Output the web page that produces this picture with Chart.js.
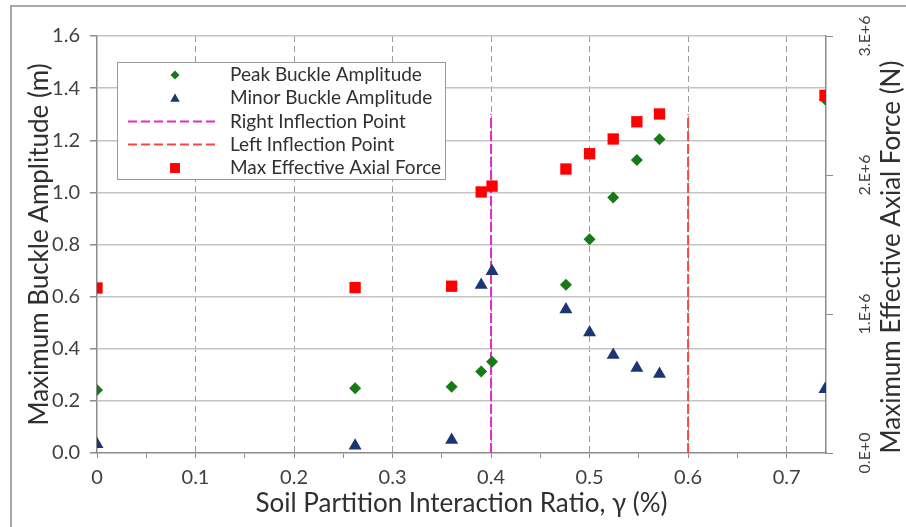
<!DOCTYPE html>
<html>
<head>
<meta charset="utf-8">
<script src="https://cdn.jsdelivr.net/npm/chart.js@4/dist/chart.umd.min.js"></script>
<style>
  body { margin: 0; background: #fff; overflow: hidden; }
  #wrap { position: relative; width: 906px; height: 527px; overflow: hidden; }
  #frame { position: absolute; left: 10px; top: 5px; width: 1000px; height: 700px;
           border-left: 2px solid #a8a8a8; border-top: 2px solid #a8a8a8; }
  canvas { position: absolute; left: 0; top: 0; }
</style>
</head>
<body>
<div id="wrap">
  <div id="frame"></div>
  <canvas id="chart" width="906" height="527"></canvas>
</div>
<script>
// soil partition interaction ratio (x) for every run
const ratio = [0, 0.262, 0.36, 0.39, 0.401, 0.476, 0.5, 0.524, 0.548, 0.571, 0.739];
const peakAmplitude = [0.242, 0.248, 0.254, 0.313, 0.35, 0.646, 0.82, 0.98, 1.124, 1.204, 1.357];
const minorAmplitude = [0.034, 0.028, 0.05, 0.645, 0.697, 0.551, 0.462, 0.376, 0.326, 0.303, 0.245];
const maxAxialForce = [1.187e6, 1.19e6, 1.2e6, 1.878e6, 1.92e6, 2.043e6, 2.153e6, 2.259e6, 2.383e6, 2.439e6, 2.573e6];

const rightInflectionX = [0.4, 0.4];
const leftInflectionX = [0.6, 0.6];
const inflectionY = [0, 1.3];

const SERIES_LABELS = ["Peak Buckle Amplitude", "Minor Buckle Amplitude", "Right Inflection Point",
  "Left Inflection Point", "Max Effective Axial Force"];
const RATIO_TICKS = [0, 0.05, 0.1, 0.15, 0.2, 0.25, 0.3, 0.35, 0.4, 0.45, 0.5, 0.55, 0.6, 0.65, 0.7];
const RATIO_MAX = 0.74;
const AMPLITUDE_TICKS = { min: 0, max: 1.6, step: 0.2 };
const FORCE_TICKS = { min: 0, max: 3e6, step: 1e6 };

const GREEN = "#157a17";
const NAVY = "#1c3573";
const RED = "#ff0000";
const MAGENTA = "#e32bc6";
const RED_LINE = "#ff4444";
const FONT = "Lato";
const TITLE_SIZE = 26;

function toPoints(xs, ys) {
  return xs.map((x, i) => ({ x, y: ys[i] }));
}

function isTenth(v) {
  return Math.abs(v * 10 - Math.round(v * 10)) < 1e-6;
}

function fixWidth(w) {
  return (scale) => { scale.width = w; };
}

const legendPlugin = {
  id: "boxLegend",
  afterDraw(chart) {
    const ctx = chart.ctx;
    const x0 = 117, y0 = 62, w = 328, h = 117;
    ctx.save();
    ctx.fillStyle = "#fff";
    ctx.fillRect(x0, y0, w, h);
    ctx.strokeStyle = "#9a9a9a";
    ctx.lineWidth = 1;
    ctx.strokeRect(x0 + 0.5, y0 + 0.5, w, h);

    const rows = [75, 98, 121.5, 144.5, 168];
    const mx = 175;
    ctx.font = `19px ${FONT}`;
    ctx.textBaseline = "middle";
    SERIES_LABELS.forEach((label, i) => {
      const y = rows[i];
      ctx.save();
      if (i === 0) {
        ctx.fillStyle = GREEN; ctx.strokeStyle = GREEN;
        Chart.helpers.drawPoint(ctx, { pointStyle: "rectRot", radius: 4.5, borderWidth: 0 }, mx, y);
      } else if (i === 1) {
        ctx.fillStyle = NAVY; ctx.strokeStyle = NAVY;
        Chart.helpers.drawPoint(ctx, { pointStyle: "triangle", radius: 5.5, borderWidth: 0 }, mx, y + 1);
      } else if (i === 4) {
        ctx.fillStyle = RED; ctx.strokeStyle = RED;
        Chart.helpers.drawPoint(ctx, { pointStyle: "rect", radius: 7, borderWidth: 0 }, mx, y);
      } else {
        ctx.strokeStyle = i === 2 ? MAGENTA : RED_LINE;
        ctx.lineWidth = 2;
        ctx.setLineDash([9, 4]);
        ctx.beginPath();
        ctx.moveTo(128, y);
        ctx.lineTo(218, y);
        ctx.stroke();
      }
      ctx.restore();
      ctx.fillStyle = "#303030";
      ctx.fillText(label, 230, y);
    });

    // right axis title reads bottom to top
    ctx.font = `${TITLE_SIZE}px ${FONT}`;
    ctx.fillStyle = "#303030";
    ctx.textAlign = "center";
    ctx.translate(892, 257);
    ctx.rotate(-Math.PI / 2);
    ctx.fillText("Maximum Effective Axial Force (N)", 0, 0);
    ctx.restore();
  },
};

Chart.defaults.font.family = FONT;
Chart.defaults.color = "#404040";

new Chart(document.getElementById("chart"), {
  type: "scatter",
  data: {
    datasets: [
      {
        label: SERIES_LABELS[4],
        data: toPoints(ratio, maxAxialForce),
        yAxisID: "y2",
        pointStyle: "rect",
        pointRadius: 8,
        backgroundColor: RED,
        borderWidth: 0,
        order: 0,
      },
      {
        label: SERIES_LABELS[0],
        data: toPoints(ratio, peakAmplitude),
        yAxisID: "y",
        pointStyle: "rectRot",
        pointRadius: 6,
        backgroundColor: GREEN,
        borderWidth: 0,
        order: 1,
      },
      {
        label: SERIES_LABELS[1],
        data: toPoints(ratio, minorAmplitude),
        yAxisID: "y",
        pointStyle: "triangle",
        pointRadius: 7.5,
        backgroundColor: NAVY,
        borderWidth: 0,
        order: 2,
      },
      {
        label: SERIES_LABELS[2],
        data: toPoints(rightInflectionX, inflectionY),
        yAxisID: "y",
        showLine: true,
        pointRadius: 0,
        borderColor: MAGENTA,
        borderWidth: 2,
        borderDash: [10, 3],
        order: 3,
      },
      {
        label: SERIES_LABELS[3],
        data: toPoints(leftInflectionX, inflectionY),
        yAxisID: "y",
        showLine: true,
        pointRadius: 0,
        borderColor: RED_LINE,
        borderWidth: 2,
        borderDash: [10, 3],
        order: 3,
      },
    ],
  },
  options: {
    responsive: false,
    animation: false,
    devicePixelRatio: 1,
    layout: { padding: { top: 36, left: 0, right: 0, bottom: 0 } },
    plugins: { legend: { display: false }, tooltip: { enabled: false } },
    scales: {
      x: {
        type: "linear",
        min: 0,
        max: RATIO_MAX,
        afterBuildTicks: (scale) => { scale.ticks = RATIO_TICKS.map((value) => ({ value })); },
        afterFit: (scale) => { scale.height = 74; },
        ticks: {
          autoSkip: false,
          maxRotation: 0,
          padding: 8,
          font: { size: 20 },
          callback: (v) => (isTenth(v) ? String(Math.round(v * 10) / 10) : ""),
        },
        grid: {
          color: (c) => (c.tick && isTenth(c.tick.value) && c.tick.value > 0 ? "#9c9c9c" : "transparent"),
          tickColor: "#8c8c8c",
          tickLength: 5,
          lineWidth: 1,
        },
        border: { color: "#8c8c8c", width: 1.5, dash: [6, 4] },
        title: {
          display: true,
          text: "Soil Partition Interaction Ratio, γ (%)",
          font: { size: TITLE_SIZE },
          color: "#303030",
          padding: { top: 0, bottom: 8 },
        },
      },
      y: {
        position: "left",
        min: AMPLITUDE_TICKS.min,
        max: AMPLITUDE_TICKS.max,
        afterFit: fixWidth(97),
        ticks: {
          stepSize: AMPLITUDE_TICKS.step,
          padding: 10,
          font: { size: 20 },
          callback: (v) => v.toFixed(1),
        },
        grid: { color: (c) => (c.tick && c.tick.value > 0 ? "#c4c4c4" : "transparent"), tickColor: "#8c8c8c", tickLength: 7, lineWidth: 1.5 },
        border: { color: "#8c8c8c", width: 1.5 },
        title: {
          display: true,
          text: "Maximum Buckle Amplitude (m)",
          font: { size: TITLE_SIZE },
          color: "#303030",
          padding: { top: 24, bottom: 0 },
        },
      },
      y2: {
        position: "right",
        min: FORCE_TICKS.min,
        max: FORCE_TICKS.max,
        afterFit: fixWidth(80),
        ticks: {
          stepSize: FORCE_TICKS.step,
          minRotation: 90,
          maxRotation: 90,
          crossAlign: "center",
          padding: 11,
          font: { size: 16 },
          callback: (v) => (v === 0 ? "0.E+0" : `${Math.round(v / 1e6)}.E+6`),
        },
        grid: { drawOnChartArea: false, tickColor: "#8c8c8c", tickLength: 7 },
        border: { color: "#8c8c8c", width: 1.5 },
      },
    },
  },
  plugins: [legendPlugin],
});
</script>
</body>
</html>
